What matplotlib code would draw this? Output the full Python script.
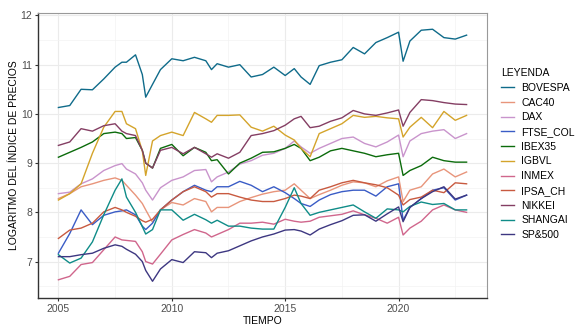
import numpy as np
import matplotlib
matplotlib.use("Agg")
import matplotlib.pyplot as plt
from matplotlib.ticker import MultipleLocator

plt.rcParams['font.family'] = ['Liberation Sans', 'DejaVu Sans']

# =====================================
# DATA (log price index)
# =====================================
fechas = [2005.0, 2005.5, 2006.0, 2006.5, 2007.0, 2007.5, 2007.8, 2008.0, 2008.4, 2008.7,
          2008.85, 2009.15, 2009.5, 2010.0, 2010.5, 2011.0, 2011.5, 2011.75, 2012.0, 2012.5,
          2013.0, 2013.5, 2014.0, 2014.5, 2015.0, 2015.4, 2015.7, 2016.1, 2016.5, 2017.0,
          2017.5, 2018.0, 2018.5, 2019.0, 2019.5, 2020.0, 2020.2, 2020.5, 2021.0, 2021.5,
          2022.0, 2022.5, 2023.0]

bovespa = [10.13, 10.17, 10.5, 10.49, 10.71, 10.95, 11.05, 11.05, 11.2, 10.8, 10.34, 10.6, 10.9,
           11.12, 11.08, 11.15, 11.08, 10.9, 11.02, 10.95, 11.0, 10.75, 10.8, 10.95, 10.78, 10.92,
           10.75, 10.6, 10.98, 11.05, 11.1, 11.35, 11.22, 11.45, 11.55, 11.66, 11.07, 11.48, 11.7,
           11.72, 11.55, 11.52, 11.6]
cac40 = [8.28, 8.38, 8.52, 8.58, 8.65, 8.7, 8.65, 8.55, 8.35, 8.18, 8.05, 7.8, 8.05, 8.2, 8.15,
         8.28, 8.22, 8.01, 8.1, 8.1, 8.22, 8.3, 8.37, 8.42, 8.45, 8.58, 8.45, 8.28, 8.36, 8.45,
         8.55, 8.62, 8.6, 8.52, 8.64, 8.72, 8.22, 8.45, 8.52, 8.78, 8.88, 8.72, 8.82]
dax = [8.38, 8.41, 8.58, 8.68, 8.85, 8.95, 8.99, 8.88, 8.78, 8.6, 8.45, 8.25, 8.5, 8.65, 8.72,
       8.85, 8.87, 8.62, 8.72, 8.82, 8.98, 9.05, 9.16, 9.2, 9.3, 9.45, 9.33, 9.2, 9.3, 9.4,
       9.5, 9.53, 9.4, 9.33, 9.43, 9.57, 9.13, 9.45, 9.6, 9.65, 9.68, 9.5, 9.6]
ftse_col = [7.17, 7.57, 8.05, 7.75, 7.94, 8.01, 8.03, 8.05, 7.95, 7.72, 7.65, 7.78, 8.05, 8.25,
            8.42, 8.55, 8.45, 8.42, 8.52, 8.52, 8.63, 8.55, 8.42, 8.52, 8.4, 8.28, 8.18, 8.12,
            8.25, 8.36, 8.42, 8.45, 8.45, 8.33, 8.52, 8.58, 7.84, 8.1, 8.28, 8.45, 8.5, 8.25, 8.35]
ibex35 = [9.12, 9.22, 9.32, 9.43, 9.6, 9.63, 9.6, 9.5, 9.52, 9.26, 9.0, 8.9, 9.3, 9.38, 9.15,
          9.32, 9.22, 9.05, 9.07, 8.78, 9.0, 9.1, 9.22, 9.23, 9.3, 9.38, 9.3, 9.05, 9.12, 9.25,
          9.3, 9.25, 9.2, 9.13, 9.17, 9.2, 8.75, 8.85, 8.95, 9.12, 9.05, 9.02, 9.02]
igbvl = [8.25, 8.38, 8.58, 9.2, 9.73, 10.05, 10.05, 9.8, 9.7, 9.25, 8.75, 9.45, 9.56, 9.63, 9.56,
         10.03, 9.9, 9.83, 9.97, 9.97, 9.98, 9.73, 9.65, 9.75, 9.57, 9.47, 9.3, 9.13, 9.6, 9.7,
         9.8, 9.97, 9.93, 9.95, 9.92, 9.9, 9.53, 9.73, 9.93, 9.72, 10.05, 9.87, 9.97]
inmex = [6.63, 6.7, 6.94, 6.98, 7.24, 7.5, 7.44, 7.43, 7.41, 7.2, 7.0, 6.95, 7.15, 7.44, 7.55,
         7.65, 7.58, 7.5, 7.55, 7.65, 7.78, 7.78, 7.8, 7.76, 7.86, 7.82, 7.8, 7.82, 7.9, 7.93,
         7.96, 8.03, 7.95, 7.88, 7.78, 7.9, 7.54, 7.68, 7.82, 8.05, 8.15, 8.05, 8.0]
ipsa_ch = [7.47, 7.64, 7.68, 7.78, 8.01, 8.1, 8.05, 8.0, 7.92, 7.83, 7.8, 7.86, 8.05, 8.25, 8.42,
           8.52, 8.42, 8.31, 8.38, 8.38, 8.31, 8.25, 8.22, 8.22, 8.28, 8.35, 8.33, 8.28, 8.45,
           8.52, 8.6, 8.65, 8.6, 8.56, 8.5, 8.35, 8.15, 8.26, 8.31, 8.45, 8.4, 8.6, 8.58]
nikkei = [9.36, 9.43, 9.7, 9.65, 9.76, 9.8, 9.65, 9.6, 9.56, 9.26, 9.0, 8.9, 9.26, 9.32, 9.19,
          9.32, 9.19, 9.12, 9.19, 9.1, 9.22, 9.56, 9.6, 9.66, 9.77, 9.9, 9.95, 9.72, 9.75, 9.85,
          9.92, 10.07, 10.0, 9.97, 10.02, 10.08, 9.75, 10.03, 10.29, 10.27, 10.23, 10.2, 10.19]
shangai = [7.14, 6.97, 7.07, 7.4, 7.95, 8.45, 8.68, 8.31, 8.0, 7.71, 7.56, 7.65, 8.05, 8.05, 7.84,
           7.96, 7.85, 7.78, 7.84, 7.72, 7.72, 7.68, 7.66, 7.66, 8.1, 8.5, 8.18, 7.94, 8.0, 8.05,
           8.1, 8.15, 8.01, 7.88, 8.07, 8.05, 8.01, 8.12, 8.21, 8.16, 8.18, 8.05, 8.05]
sp500 = [7.1, 7.1, 7.14, 7.17, 7.27, 7.34, 7.31, 7.25, 7.15, 7.0, 6.82, 6.6, 6.85, 7.04, 6.98,
         7.2, 7.18, 7.08, 7.17, 7.22, 7.32, 7.42, 7.5, 7.56, 7.64, 7.65, 7.62, 7.54, 7.66, 7.75,
         7.83, 7.94, 7.95, 7.82, 7.97, 8.11, 7.81, 8.1, 8.28, 8.42, 8.52, 8.27, 8.35]

nombres = ["BOVESPA", "CAC40", "DAX", "FTSE_COL", "IBEX35", "IGBVL",
           "INMEX", "IPSA_CH", "NIKKEI", "SHANGAI", "SP&500"]
series = [bovespa, cac40, dax, ftse_col, ibex35, igbvl, inmex, ipsa_ch, nikkei, shangai, sp500]
colores = ["#0f6b8a", "#e8957b", "#c994cc", "#3a5cc6", "#0b6b0b", "#d4a42b",
           "#d0668c", "#c85a40", "#843e63", "#0f8c88", "#3d3781"]

# =====================================
# PLOT
# =====================================
fig = plt.figure(figsize=(5.8, 3.33), dpi=100)
ax = fig.add_axes([38/580, 1 - 298/333, (487 - 38)/580, (298 - 13)/333])

for nombre, valores, color in zip(nombres, series, colores):
    ax.plot(fechas, valores, color=color, lw=1.0, label=nombre)

ax.set_xlim(2004.1, 2023.9)
ax.set_ylim(6.26, 12.05)
ax.xaxis.set_major_locator(MultipleLocator(5))
ax.xaxis.set_minor_locator(MultipleLocator(2.5))
ax.yaxis.set_major_locator(MultipleLocator(1))
ax.yaxis.set_minor_locator(MultipleLocator(0.5))
ax.grid(which='major', color='#ebebeb', lw=0.8)
ax.grid(which='minor', color='#f3f3f3', lw=0.5)
ax.set_axisbelow(True)

for s in ['top', 'right']:
    ax.spines[s].set_color('#999999')
    ax.spines[s].set_linewidth(0.8)
for s in ['left', 'bottom']:
    ax.spines[s].set_color('#333333')
    ax.spines[s].set_linewidth(1.0)

ax.tick_params(which='major', length=2.5, width=0.8, color='#333333',
               labelsize=7.5, labelcolor='#4d4d4d', pad=1.5)
ax.tick_params(which='minor', length=0)

ax.set_xlabel("TIEMPO", fontsize=7.5, labelpad=2)
ax.set_ylabel("LOGARITMO DEL ÍNDICE DE PRECIOS", fontsize=7.5, labelpad=1.5)

leg = fig.legend(loc='upper left', bbox_to_anchor=(492/580, 1 - 59/333), frameon=False,
                 title="LEYENDA", fontsize=7.5, title_fontsize=7.5,
                 handlelength=1.2, handletextpad=0.7, labelspacing=0.45)
leg._legend_box.align = "left"

fig.savefig("out.png", dpi=100)
